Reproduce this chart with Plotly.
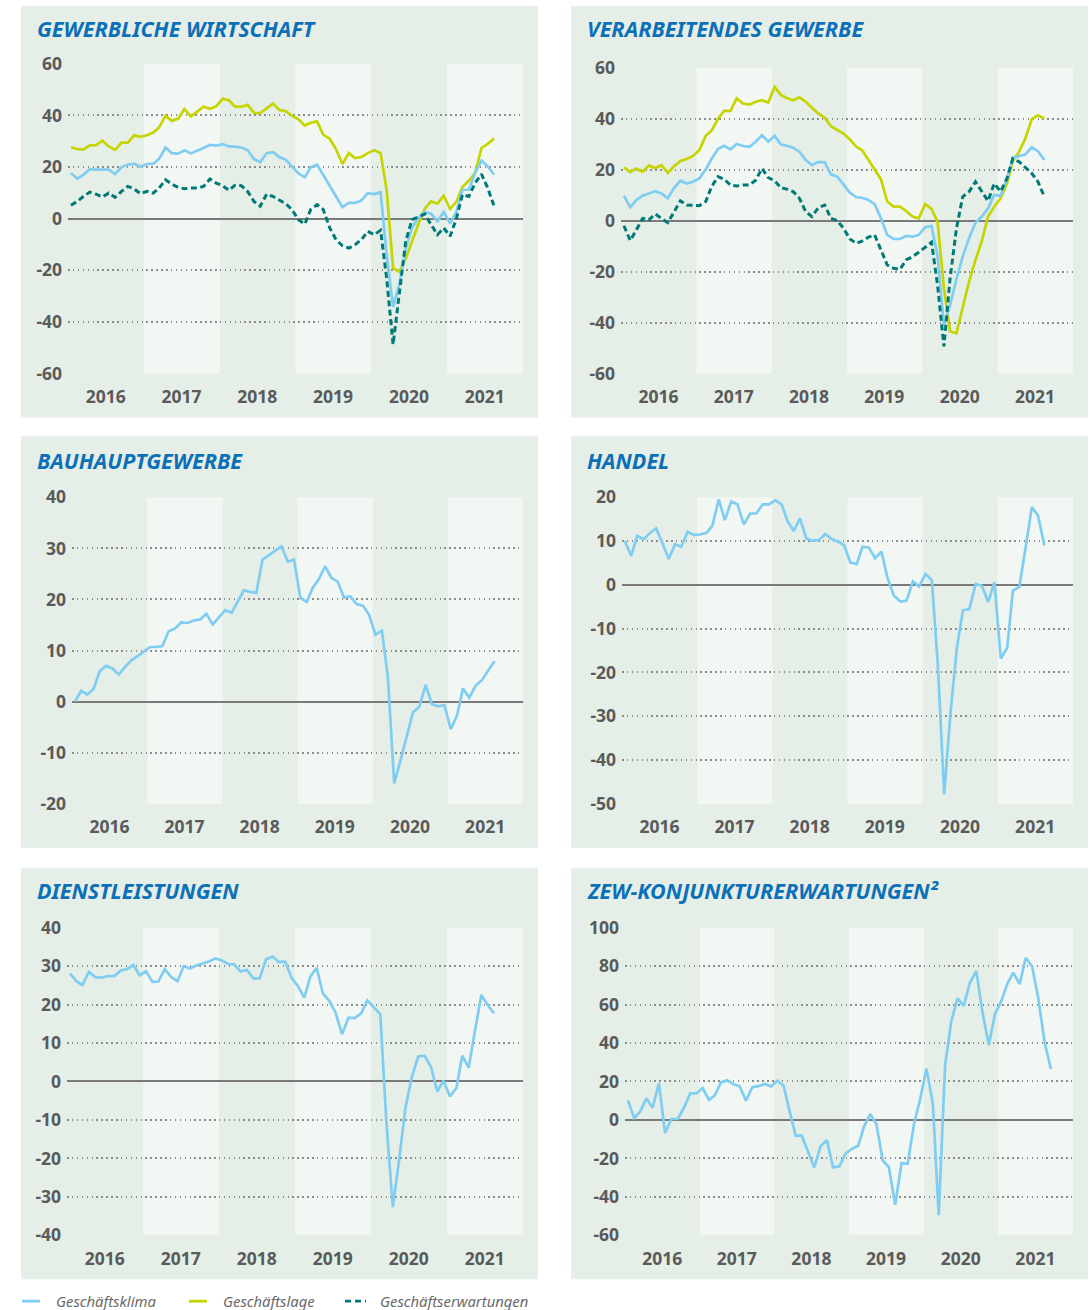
import plotly.graph_objects as go

# ---------------------------------------------------------------- data
YEARS = [2016, 2017, 2018, 2019, 2020, 2021]

# ifo – Gewerbliche Wirtschaft (Saldo)
gw_klima = [17.7, 15.5, 17.0, 19.2, 19.0, 19.0, 19.0, 17.3, 20.0, 20.9, 21.3, 20.1,
            21.2, 21.3, 23.2, 27.6, 25.4, 25.2, 26.5, 25.3, 26.3, 27.4, 28.6, 28.3,
            28.9, 28.0, 27.9, 27.6, 26.6, 23.1, 21.9, 25.4, 25.8, 23.9, 22.8, 20.3,
            17.5, 16.1, 19.9, 20.9, 17.0, 12.9, 8.6, 4.5, 6.1, 6.1, 7.1, 9.9,
            9.5, 10.2, -13.9, -34.2, -25.5, -11.6, -3.6, 0.3, 2.6, 1.9, -1.0, 2.6,
            -1.9, 2.8, 11.2, 11.2, 17.7, 22.5, 20.3, 17.0]
gw_lage = [27.7, 27.0, 26.8, 28.4, 28.5, 30.2, 28.0, 26.7, 29.5, 29.5, 32.3, 31.7,
           32.3, 33.4, 35.4, 39.9, 37.9, 38.8, 42.5, 39.6, 41.5, 43.4, 42.6, 43.5,
           46.5, 45.9, 43.4, 43.4, 44.1, 41.0, 40.9, 42.8, 44.6, 42.1, 41.7, 39.9,
           38.5, 36.1, 37.2, 37.7, 32.5, 31.0, 27.0, 21.2, 25.4, 23.5, 23.9, 25.4,
           26.5, 25.4, 11.2, -19.1, -20.6, -15.5, -8.5, -2.1, 3.9, 6.7, 5.8, 8.9,
           3.7, 6.7, 12.3, 14.7, 17.7, 27.4, 29.0, 31.1]
gw_erw = [5.2, 6.7, 8.6, 10.3, 9.5, 8.4, 9.9, 8.3, 10.6, 12.5, 11.5, 9.7,
          10.6, 9.9, 11.9, 15.1, 13.4, 12.1, 11.6, 11.9, 11.9, 12.5, 15.4, 13.8,
          12.8, 11.0, 12.9, 12.8, 10.6, 6.7, 4.8, 9.5, 8.6, 7.1, 5.8, 3.5,
          -0.4, -2.1, 3.5, 5.4, 3.5, -3.6, -8.1, -10.5, -11.4, -10.1, -8.1, -4.9,
          -6.2, -4.5, -23.0, -48.8, -28.1, -8.8, -0.4, 0.6, 1.8, -2.3, -6.2, -3.6,
          -6.8, 0.3, 9.3, 8.6, 13.8, 17.3, 11.9, 4.8]

# ifo – Verarbeitendes Gewerbe
vg_klima = [9.8, 5.2, 8.1, 9.8, 10.7, 11.6, 10.7, 8.8, 12.9, 15.7, 14.6, 15.3,
            16.6, 20.1, 24.2, 28.1, 29.4, 28.0, 30.1, 29.3, 29.0, 31.0, 33.6, 31.0,
            33.3, 29.9, 29.4, 28.6, 27.1, 23.8, 21.8, 23.1, 22.9, 18.2, 17.3, 14.4,
            11.0, 9.2, 9.0, 8.1, 6.5, 0.9, -5.6, -7.2, -7.2, -6.0, -6.3, -5.6,
            -2.6, -2.1, -13.7, -41.2, -33.1, -22.9, -14.1, -6.9, -0.8, 1.6, 4.8, 10.1,
            9.8, 16.6, 24.4, 25.4, 26.0, 28.8, 27.3, 23.8]
vg_lage = [20.9, 19.1, 20.5, 19.2, 21.6, 20.7, 21.8, 18.8, 21.4, 23.4, 24.2, 25.4,
           27.7, 33.3, 35.3, 39.9, 43.1, 43.1, 48.0, 46.0, 45.6, 46.7, 47.3, 46.4,
           52.5, 49.3, 48.2, 47.3, 48.4, 46.7, 44.3, 42.1, 40.4, 37.1, 35.6, 34.2,
           31.9, 29.0, 27.7, 23.8, 20.5, 16.2, 7.5, 5.5, 5.5, 3.8, 1.6, 0.9,
           6.5, 4.6, -0.4, -26.5, -43.5, -44.2, -34.1, -23.9, -15.4, -8.2, 1.6, 5.5,
           8.8, 14.6, 23.4, 27.1, 32.3, 39.9, 41.4, 40.1]
vg_erw = [-2.0, -7.8, -3.7, 0.9, 0.3, 2.6, 0.9, -0.8, 3.5, 7.8, 6.1, 5.9,
          5.9, 7.5, 13.3, 17.3, 16.3, 14.0, 13.6, 14.0, 14.0, 15.9, 20.5, 16.9,
          15.7, 12.9, 12.4, 11.4, 8.8, 3.5, 1.6, 5.1, 6.1, 0.9, 0.0, -3.0,
          -7.2, -8.9, -8.0, -6.5, -5.6, -11.5, -17.4, -18.7, -19.1, -15.4, -14.1, -12.4,
          -10.6, -8.5, -25.2, -49.4, -22.6, -3.0, 9.4, 11.4, 15.3, 11.4, 7.7, 14.6,
          11.4, 16.6, 24.4, 23.1, 20.8, 18.6, 15.3, 9.4]

# ifo – Bauhauptgewerbe, Geschäftsklima
bau_klima = [0.0, 2.1, 1.4, 2.5, 6.0, 7.0, 6.5, 5.3, 6.8, 8.1, 8.9, 9.8,
             10.7, 10.7, 10.9, 13.8, 14.3, 15.5, 15.4, 15.9, 16.1, 17.2, 15.1, 16.5,
             17.9, 17.4, 19.5, 21.8, 21.5, 21.3, 27.8, 28.7, 29.7, 30.4, 27.4, 27.8,
             20.3, 19.5, 22.2, 24.0, 26.5, 24.2, 23.5, 20.4, 20.6, 19.1, 18.8, 17.0,
             13.1, 13.9, 5.0, -16.0, -11.6, -6.7, -2.1, -1.0, 3.3, -0.5, -0.9, -0.7,
             -5.4, -2.6, 2.6, 0.8, 3.1, 4.2, 6.0, 7.9]

# ifo – Handel, Geschäftsklima
handel_klima = [10.0, 6.6, 11.2, 10.4, 11.8, 12.9, 9.6, 5.9, 9.3, 8.7, 12.1, 11.4,
                11.5, 11.9, 13.5, 19.5, 14.8, 19.0, 18.4, 13.8, 16.3, 16.3, 18.4, 18.4,
                19.3, 18.4, 14.6, 12.3, 15.2, 10.6, 10.1, 10.2, 11.6, 10.5, 9.9, 9.1,
                5.1, 4.8, 8.7, 8.5, 6.1, 7.6, 1.5, -2.5, -3.8, -3.6, 0.8, -0.4,
                2.5, 1.1, -18.2, -47.8, -29.6, -14.6, -5.8, -5.5, 0.2, -0.2, -3.9, 0.6,
                -16.8, -14.4, -1.3, -0.5, 8.3, 17.8, 15.8, 9.0]

# ifo – Dienstleistungen, Geschäftsklima
dienst_klima = [28.1, 26.1, 25.1, 28.5, 27.2, 27.0, 27.4, 27.4, 28.9, 29.2, 30.3, 27.6,
                28.7, 25.9, 26.0, 29.2, 27.2, 26.1, 30.0, 29.4, 30.2, 30.7, 31.3, 32.0,
                31.5, 30.5, 30.5, 28.6, 29.0, 26.8, 26.8, 31.8, 32.5, 31.1, 31.2, 27.0,
                24.8, 21.8, 27.2, 29.6, 22.9, 21.0, 17.9, 12.3, 16.6, 16.5, 17.7, 21.1,
                19.2, 17.5, -10.2, -32.7, -20.6, -6.8, 1.0, 6.5, 6.7, 3.9, -2.6, 0.2,
                -3.9, -1.7, 6.7, 3.6, 13.2, 22.5, 19.9, 17.7]

# ZEW – Konjunkturerwartungen
zew = [10.2, 1.0, 4.3, 11.2, 6.4, 19.2, -6.8, 0.5, 0.5, 6.2, 13.8, 13.8,
       16.6, 10.4, 12.8, 19.5, 20.6, 18.6, 17.5, 10.0, 17.0, 17.6, 18.7, 17.4,
       20.4, 17.8, 5.1, -8.2, -8.2, -16.1, -24.7, -13.7, -10.6, -24.7, -24.1, -17.5,
       -15.0, -13.4, -3.6, 3.1, -2.1, -21.1, -24.5, -44.1, -22.5, -22.8, -2.1, 10.7,
       26.7, 8.7, -49.5, 28.2, 51.0, 63.4, 59.3, 71.5, 77.4, 56.1, 39.0, 55.0,
       61.8, 71.2, 76.6, 70.7, 84.4, 79.8, 63.3, 40.4, 26.5]

ticks_60 = [-60, -40, -20, 0, 20, 40, 60]
ticks_bau = [-20, -10, 0, 10, 20, 30, 40]
ticks_handel = [-50, -40, -30, -20, -10, 0, 10, 20]
ticks_dienst = [-40, -30, -20, -10, 0, 10, 20, 30, 40]
ticks_zew = [-60, -40, -20, 0, 20, 40, 60, 80, 100]

panel_titles = ["GEWERBLICHE WIRTSCHAFT", "VERARBEITENDES GEWERBE", "BAUHAUPTGEWERBE",
                "HANDEL", "DIENSTLEISTUNGEN", "ZEW-KONJUNKTURERWARTUNGEN²"]
legend_labels = ["Geschäftsklima", "Geschäftslage", "Geschäftserwartungen"]

# ---------------------------------------------------------------- style
W, H = 1091, 1310
FONT = "Noto Sans"
C_KLIMA = "#80cdf2"
C_LAGE = "#c6d400"
C_ERW = "#007a76"
C_TITLE = "#0c70b8"
C_TEXT = "#5a5a5a"
PANEL_BG = "#e5eee7"
BAND_LIGHT = "#f2f7f3"
DASH = "6px,3.5px"

# vertical placement is laid out on a slightly taller grid than the page
Y_OFF, Y_SCALE = 11.06, 0.983


def month_dates(n):
    out = []
    for i in range(n):
        y, m = 2016 + i // 12, i % 12 + 1
        out.append(f"{y}-{m:02d}-15")
    return out


def py(v):
    """pixel row -> paper fraction"""
    return 1 - ((v - Y_OFF) / Y_SCALE) / H


def px_x(a, b):
    return [a / W, b / W]


def fmt(v):
    return str(v) if v >= 0 else "-" + str(-v)


# panel: outer box (x0, y0, x1, y1), plot area (x0, x1, ytop, ybottom), y range, ticks, title pos
panels = [
    dict(box=(21, 4, 538, 416), plot=(68, 523, 62, 372), rng=(-60, 60), ticks=ticks_60, tpos=(35, 27)),
    dict(box=(571, 4, 1088, 416), plot=(621, 1073, 66, 372), rng=(-60, 60), ticks=ticks_60, tpos=(585, 27)),
    dict(box=(21, 435, 538, 847), plot=(72, 523, 496, 803), rng=(-20, 40), ticks=ticks_bau, tpos=(35, 459)),
    dict(box=(571, 435, 1088, 847), plot=(622, 1073, 496, 803), rng=(-50, 20), ticks=ticks_handel, tpos=(585, 459)),
    dict(box=(21, 867, 538, 1279), plot=(67, 523, 927, 1235), rng=(-40, 40), ticks=ticks_dienst, tpos=(35, 890)),
    dict(box=(571, 867, 1088, 1279), plot=(625, 1073, 927, 1235), rng=(-60, 100), ticks=ticks_zew, tpos=(585, 890)),
]

series = [
    [(gw_lage, C_LAGE, "solid"), (gw_klima, C_KLIMA, "solid"), (gw_erw, C_ERW, DASH)],
    [(vg_lage, C_LAGE, "solid"), (vg_klima, C_KLIMA, "solid"), (vg_erw, C_ERW, DASH)],
    [(bau_klima, C_KLIMA, "solid")],
    [(handel_klima, C_KLIMA, "solid")],
    [(dienst_klima, C_KLIMA, "solid")],
    [(zew, C_KLIMA, "solid")],
]

fig = go.Figure()
shapes = []
annotations = []
layout = {}

for k, (p, lines) in enumerate(zip(panels, series), start=1):
    sfx = "" if k == 1 else str(k)
    xa, ya = f"x{sfx}", f"y{sfx}"

    bx0, by0, bx1, by1 = p["box"]
    shapes.append(dict(type="rect", xref="paper", yref="paper", layer="below",
                       x0=bx0 / W, x1=bx1 / W, y0=py(by1), y1=py(by0),
                       fillcolor=PANEL_BG, line=dict(width=0)))
    for yr in YEARS:
        if yr % 2 == 1:
            shapes.append(dict(type="rect", xref=xa, yref=f"{ya} domain", layer="below",
                               x0=f"{yr}-01-01", x1=f"{yr + 1}-01-01", y0=0, y1=1,
                               fillcolor=BAND_LIGHT, line=dict(width=0)))

    for vals, col, dash in lines:
        fig.add_trace(go.Scatter(x=month_dates(len(vals)), y=vals, mode="lines",
                                 line=dict(color=col, width=3.0 if dash == DASH else 2.7, dash=dash),
                                 xaxis=xa, yaxis=ya, showlegend=False, hoverinfo="skip"))

    px0, px1, pyt, pyb = p["plot"]
    layout[f"xaxis{sfx}"] = dict(
        domain=px_x(px0, px1), anchor=ya, type="date",
        range=["2016-01-01", "2022-01-01"],
        tickvals=[f"{yr}-07-01" for yr in YEARS], ticktext=[str(yr) for yr in YEARS],
        showgrid=False, zeroline=False, showline=False, ticks="",
        ticklabelstandoff=11,
        tickfont=dict(family=FONT, size=17.5, color=C_TEXT, weight="bold"),
    )
    layout[f"yaxis{sfx}"] = dict(
        domain=[py(pyb), py(pyt)], anchor=xa, range=list(p["rng"]),
        tickvals=p["ticks"], ticktext=[fmt(v) for v in p["ticks"]],
        showgrid=True, gridcolor="#8c8c8c", gridwidth=1.5, griddash="1.5px,3.4px",
        zeroline=True, zerolinecolor="#7a7a7a", zerolinewidth=1.6,
        showline=False, ticks="", ticklabelstandoff=5,
        tickfont=dict(family=FONT, size=17.5, color=C_TEXT, weight="bold"),
    )

    tx, ty = p["tpos"]
    annotations.append(dict(text=panel_titles[k - 1], xref="paper", yref="paper",
                            x=tx / W, y=py(ty), xanchor="left", yanchor="middle",
                            showarrow=False,
                            font=dict(family=FONT, size=21.5, color=C_TITLE,
                                      weight="bold", style="italic")))

# legend row
legend_items = [(22, 40, 54, C_KLIMA, "solid"), (189, 207, 221, C_LAGE, "solid"),
                (345, 366, 378, C_ERW, "6px,4px")]
LEG_Y = 1301
for (lx0, lx1, tx, col, dash), lab in zip(legend_items, legend_labels):
    shapes.append(dict(type="line", xref="paper", yref="paper",
                       x0=lx0 / W, x1=lx1 / W, y0=py(LEG_Y), y1=py(LEG_Y),
                       line=dict(color=col, width=2.8, dash=dash)))
    annotations.append(dict(text=lab, xref="paper", yref="paper", x=tx / W, y=py(LEG_Y),
                            xanchor="left", yanchor="middle", showarrow=False,
                            font=dict(family=FONT, size=14.8, color="#6a6a6a", style="italic")))

fig.update_layout(
    width=W, height=H, margin=dict(l=0, r=0, t=0, b=0),
    paper_bgcolor="white", plot_bgcolor="rgba(0,0,0,0)",
    showlegend=False, shapes=shapes, annotations=annotations,
    **layout,
)

fig.write_html("out.html")
